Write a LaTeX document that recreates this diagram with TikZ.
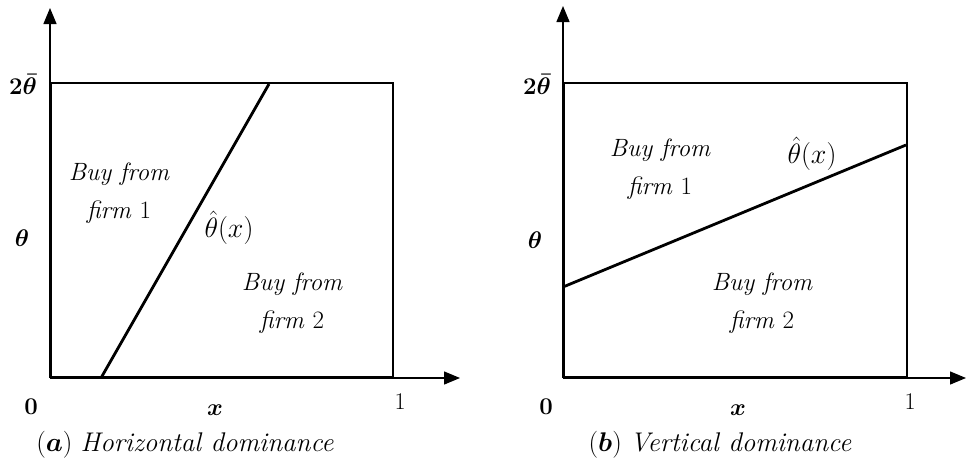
\RequirePackage{fix-cm}
\documentclass[tikz,border=0pt]{standalone}
\usepackage{amsmath,bm}
\usetikzlibrary{arrows.meta}
\tikzset{
  axisline/.style={line width=1.4pt,-{Triangle[length=16pt,width=13pt]}},
  boxline/.style={line width=1.8pt},
  cutline/.style={line width=2.8pt},
  region/.style={font=\fontsize{25}{38}\selectfont\itshape,align=center,inner sep=0pt},
  lbl/.style={font=\fontsize{24}{28}\selectfont,inner sep=0pt},
  hatlbl/.style={font=\fontsize{28}{32}\selectfont,inner sep=0pt},
  captext/.style={font=\fontsize{27}{31}\selectfont,inner sep=0pt}
}
\begin{document}
\begin{tikzpicture}[x=1pt,y=-1pt]
\useasboundingbox (0,0) rectangle (966,471);
% ---- panel (a)
\coordinate (ao) at (50,378);
\coordinate (ay) at (50,8);
\coordinate (ax) at (460,378);
\draw[axisline] (ao) -- (ay);
\draw[axisline] (ao) -- (ax);
\node[draw,boxline,minimum width=342pt,minimum height=294pt,inner sep=0pt,anchor=south west] (abox) at (50,378) {};
\coordinate (a1) at (101,378);
\coordinate (a2) at (269,84);
\draw[cutline] (a1) -- (a2);
\node[lbl] (atop) at (23,84) {$\bm{2\bar{\theta}}$};
\node[lbl] (ath) at (22,238) {$\bm{\theta}$};
\node[lbl] (a0) at (31,407) {$\mathbf{0}$};
\node[lbl] (ax1) at (215,410) {$\bm{x}$};
\node[lbl] (aone) at (400,402) {$1$};
\node[region] (ar1) at (119,193) {Buy from\\firm \upshape 1};
\node[region] (ar2) at (292,303) {Buy from\\firm \upshape 2};
\node[hatlbl] (ahat) at (229,228) {$\hat{\theta}(x)$};
\node[captext] (acap) at (185,445) {$(\bm{a})$ \textit{Horizontal dominance}};
% ---- panel (b)
\coordinate (bo) at (563,378);
\coordinate (by) at (563,6);
\coordinate (bx) at (966,378);
\draw[axisline] (bo) -- (by);
\draw[axisline] (bo) -- (bx);
\node[draw,boxline,minimum width=343pt,minimum height=294pt,inner sep=0pt,anchor=south west] (bbox) at (563,378) {};
\coordinate (b1) at (563,287);
\coordinate (b2) at (906,145);
\draw[cutline] (b1) -- (b2);
\node[lbl] (btop) at (537,84) {$\bm{2\bar{\theta}}$};
\node[lbl] (bth) at (535,240) {$\bm{\theta}$};
\node[lbl] (b0) at (546,407) {$\mathbf{0}$};
\node[lbl] (bx1) at (738,410) {$\bm{x}$};
\node[lbl] (bone) at (910,402) {$1$};
\node[region] (br1) at (660,169) {Buy from\\firm \upshape 1};
\node[region] (br2) at (762,303) {Buy from\\firm \upshape 2};
\node[hatlbl] (bhat) at (812,154) {$\hat{\theta}(x)$};
\node[captext] (bcap) at (720,445) {$(\bm{b})$ \textit{Vertical dominance}};
\end{tikzpicture}
\end{document}
